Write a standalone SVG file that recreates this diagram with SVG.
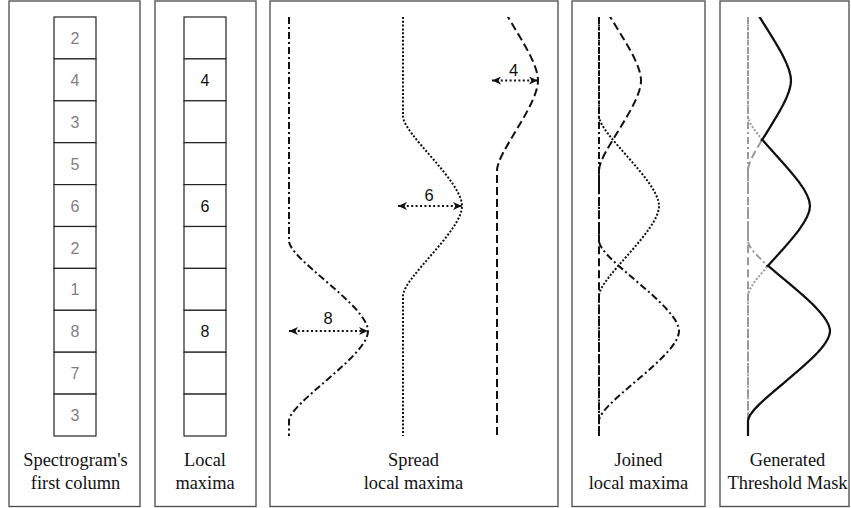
<svg xmlns="http://www.w3.org/2000/svg" width="851" height="508" viewBox="0 0 851 508">
  <style>
    .panel { fill: #fff; stroke: #4a4a4a; stroke-width: 1.3; }
    .cell { fill: #fff; stroke: #222; stroke-width: 1.2; }
    .val { font-family: "Liberation Sans", Arial, sans-serif; font-size: 16px; text-anchor: middle; }
    .val-grey { fill: #808080; }
    .val-black { fill: #111; }
    .caption { font-family: "Liberation Serif", "Times New Roman", serif; font-size: 18.4px; text-anchor: middle; fill: #111; }
    .curve { fill: none; stroke-width: 2; stroke-linecap: butt; }
    .dashdot { stroke-dasharray: 7 3 2 3; }
    .dotted { stroke-dasharray: 2 1.8; }
    .dashed { stroke-dasharray: 8 4; }
    .ink { stroke: #111; }
    .faint { stroke: #9a9a9a; }
    .envelope { fill: none; stroke: #111; stroke-width: 2.2; }
    .dim { fill: none; stroke: #111; stroke-width: 1.8; stroke-dasharray: 2 2.4; marker-start: url(#tip); marker-end: url(#tip); }
    .dimlabel { font-family: "Liberation Sans", Arial, sans-serif; font-size: 16.5px; text-anchor: middle; fill: #111; }
  </style>
  <defs>
    <marker id="tip" markerUnits="userSpaceOnUse" markerWidth="10" markerHeight="8" refX="9" refY="4" orient="auto-start-reverse">
      <path d="M0,0 L9,4 L0,8 L2.5,4 Z" fill="#111"/>
    </marker>
    <clipPath id="band"><rect x="0" y="17" width="851" height="419"/></clipPath>
    <clipPath id="env1"><rect x="700" y="17" width="151" height="123.8"/></clipPath>
    <clipPath id="env2"><rect x="700" y="139" width="151" height="127.5"/></clipPath>
    <clipPath id="env3"><rect x="700" y="265" width="151" height="171"/></clipPath>
  </defs>

  <!-- column of spectrogram values -->
  <g id="spectrogram-column">
    <rect class="panel" x="9" y="1" width="131" height="505.5"/>
    <rect class="cell" x="54" y="17" width="42" height="41.9"/>
    <rect class="cell" x="54" y="58.9" width="42" height="41.9"/>
    <rect class="cell" x="54" y="100.8" width="42" height="41.9"/>
    <rect class="cell" x="54" y="142.7" width="42" height="41.9"/>
    <rect class="cell" x="54" y="184.6" width="42" height="41.9"/>
    <rect class="cell" x="54" y="226.5" width="42" height="41.9"/>
    <rect class="cell" x="54" y="268.4" width="42" height="41.9"/>
    <rect class="cell" x="54" y="310.3" width="42" height="41.9"/>
    <rect class="cell" x="54" y="352.2" width="42" height="41.9"/>
    <rect class="cell" x="54" y="394.1" width="42" height="41.9"/>
    <text class="val val-grey" x="75" y="44">2</text>
    <text class="val val-grey" x="75" y="85.9">4</text>
    <text class="val val-grey" x="75" y="127.8">3</text>
    <text class="val val-grey" x="75" y="169.7">5</text>
    <text class="val val-grey" x="75" y="211.6">6</text>
    <text class="val val-grey" x="75" y="253.5">2</text>
    <text class="val val-grey" x="75" y="295.4">1</text>
    <text class="val val-grey" x="75" y="337.3">8</text>
    <text class="val val-grey" x="75" y="379.2">7</text>
    <text class="val val-grey" x="75" y="421.1">3</text>
    <text class="caption" x="75.5" y="466">Spectrogram's</text>
    <text class="caption" x="75.5" y="489">first column</text>
  </g>

  <!-- local maxima column -->
  <g id="local-maxima">
    <rect class="panel" x="155" y="1" width="101" height="505.5"/>
    <rect class="cell" x="184" y="17" width="42" height="41.9"/>
    <rect class="cell" x="184" y="58.9" width="42" height="41.9"/>
    <rect class="cell" x="184" y="100.8" width="42" height="41.9"/>
    <rect class="cell" x="184" y="142.7" width="42" height="41.9"/>
    <rect class="cell" x="184" y="184.6" width="42" height="41.9"/>
    <rect class="cell" x="184" y="226.5" width="42" height="41.9"/>
    <rect class="cell" x="184" y="268.4" width="42" height="41.9"/>
    <rect class="cell" x="184" y="310.3" width="42" height="41.9"/>
    <rect class="cell" x="184" y="352.2" width="42" height="41.9"/>
    <rect class="cell" x="184" y="394.1" width="42" height="41.9"/>
    <text class="val val-black" x="205" y="85.9">4</text>
    <text class="val val-black" x="205" y="211.6">6</text>
    <text class="val val-black" x="205" y="337.3">8</text>
    <text class="caption" x="205" y="466">Local</text>
    <text class="caption" x="205" y="489">maxima</text>
  </g>

  <!-- each maximum spread into its own bump -->
  <g id="spread-maxima">
    <rect class="panel" x="270" y="1" width="288" height="505.5"/>
    <g clip-path="url(#band)">
      <path class="curve ink dashdot" d="M289,17 V241 C289,259 368,306 368,331 C368,356 289,403 289,421 V436"/>
      <path class="curve ink dotted" d="M403,17 V116 C403,134 462,181 462,206 C462,231 403,278 403,296 V436"/>
      <path class="curve ink dashed" d="M497,-9.5 C497,8.5 538,55.5 538,80.5 C538,105.5 497,152.5 497,170.5 V436"/>
    </g>
    <text class="caption" x="413.5" y="466">Spread</text>
    <text class="caption" x="413.5" y="489">local maxima</text>
  </g>

  <!-- the three bumps on a shared baseline -->
  <g id="joined-maxima">
    <rect class="panel" x="572" y="1" width="133" height="505.5"/>
    <g clip-path="url(#band)">
      <path class="curve ink dotted" d="M599,17 V116 C599,134 659,181 659,206 C659,231 599,278 599,296 V436"/>
      <path class="curve ink dashed" d="M599,-9.5 C599,8.5 641,55.5 641,80.5 C641,105.5 599,152.5 599,170.5 V436"/>
      <path class="curve ink dashdot" d="M599,17 V241 C599,259 679,306 679,331 C679,356 599,403 599,421 V436"/>
    </g>
    <text class="caption" x="638.5" y="466">Joined</text>
    <text class="caption" x="638.5" y="489">local maxima</text>
  </g>

  <!-- upper envelope of the joined bumps -->
  <g id="threshold-mask">
    <rect class="panel" x="720" y="1" width="129" height="505.5"/>
    <g clip-path="url(#band)">
      <path class="curve faint dotted" d="M748,17 V116 C748,134 810,181 810,206 C810,231 748,278 748,296 V436"/>
      <path class="curve faint dashed" d="M748,-9.5 C748,8.5 791,55.5 791,80.5 C791,105.5 748,152.5 748,170.5 V436"/>
      <path class="curve faint dashdot" d="M748,17 V241 C748,259 830,306 830,331 C830,356 748,403 748,421 V436"/>
    </g>
    <path class="envelope" clip-path="url(#env1)" d="M748,-9.5 C748,8.5 791,55.5 791,80.5 C791,105.5 748,152.5 748,170.5 V436"/>
    <path class="envelope" clip-path="url(#env2)" d="M748,17 V116 C748,134 810,181 810,206 C810,231 748,278 748,296 V436"/>
    <path class="envelope" clip-path="url(#env3)" d="M748,17 V241 C748,259 830,306 830,331 C830,356 748,403 748,421 V436"/>
    <text class="caption" x="787.5" y="466">Generated</text>
    <text class="caption" x="787.5" y="489">Threshold Mask</text>
  </g>

  <!-- width markers for each spread maximum -->
  <g id="connectors">
    <line class="dim" x1="492" y1="80.5" x2="538" y2="80.5"/>
    <line class="dim" x1="398" y1="206" x2="462" y2="206"/>
    <line class="dim" x1="289" y1="331" x2="368" y2="331"/>
    <text class="dimlabel" x="513.5" y="75.5">4</text>
    <text class="dimlabel" x="429" y="201">6</text>
    <text class="dimlabel" x="328" y="324">8</text>
  </g>
</svg>
